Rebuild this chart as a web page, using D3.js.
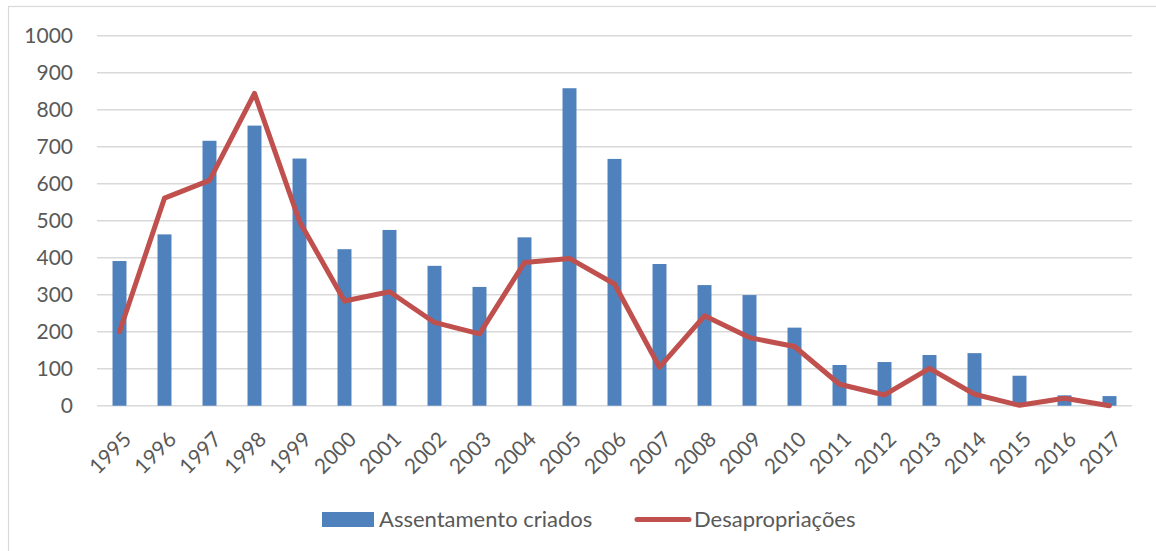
<!DOCTYPE html>
<html>
<head>
<meta charset="utf-8">
<script src="https://cdnjs.cloudflare.com/ajax/libs/d3/7.8.5/d3.min.js"></script>
<style>
  body { margin: 0; background: #fff; }
  text { font-family: Lato, "Open Sans", sans-serif; fill: #595959; }
</style>
</head>
<body>
<div id="chart"></div>
<script>
var years = ["1995","1996","1997","1998","1999","2000","2001","2002","2003","2004","2005","2006",
             "2007","2008","2009","2010","2011","2012","2013","2014","2015","2016","2017"];
var assentamentos = [391, 463, 716, 757, 668, 423, 475, 378, 321, 455, 858, 667,
                     383, 326, 299, 211, 110, 118, 137, 142, 81, 28, 26];
var desapropriacoes = [200, 561, 609, 844, 498, 283, 308, 225, 194, 387, 398, 329,
                       104, 243, 184, 160, 58, 29, 101, 31, 1, 20, 0];
var yTicks = [0, 100, 200, 300, 400, 500, 600, 700, 800, 900, 1000];

var W = 1156, H = 551;
var margin = {top: 35.7, left: 97, right: 24, bottom: 145.3};
var width = W - margin.left - margin.right;
var height = H - margin.top - margin.bottom;

var svg = d3.select("#chart").append("svg")
    .attr("width", W).attr("height", H);

// outer border (runs off the right and bottom edges)
svg.append("rect")
    .attr("x", 8.5).attr("y", 6.5)
    .attr("width", 1160).attr("height", 560)
    .attr("fill", "none").attr("stroke", "#d9d9d9").attr("stroke-width", 1.2);

var g = svg.append("g").attr("transform", "translate(" + margin.left + "," + margin.top + ")");

var x = d3.scaleBand().domain(years).range([0, width]);
var y = d3.scaleLinear().domain([0, 1000]).range([height, 0]);

// gridlines
g.selectAll(".grid")
    .data(yTicks)
    .enter().append("line")
    .attr("x1", 0).attr("x2", width)
    .attr("y1", function(d) { return y(d); })
    .attr("y2", function(d) { return y(d); })
    .attr("stroke", "#d9d9d9").attr("stroke-width", 1.5);

// y labels
var yAxis = d3.axisLeft(y).tickValues(yTicks).tickFormat(d3.format("d")).tickSize(0).tickPadding(24);
g.append("g").call(yAxis)
  .call(function(s) { s.select(".domain").remove(); })
  .selectAll("text")
    .style("font-size", "21px").attr("fill", "#595959");

// bars
var bw = x.bandwidth() * 0.31;
g.selectAll(".bar")
    .data(assentamentos)
    .enter().append("rect")
    .attr("x", function(d, i) { return x(years[i]) + x.bandwidth() / 2 - bw / 2; })
    .attr("y", function(d) { return y(d); })
    .attr("width", bw)
    .attr("height", function(d) { return y(0) - y(d); })
    .attr("fill", "#4f81bd");

// line
var line = d3.line()
    .x(function(d, i) { return x(years[i]) + x.bandwidth() / 2; })
    .y(function(d) { return y(d); });

g.append("path")
    .datum(desapropriacoes)
    .attr("d", line)
    .attr("fill", "none")
    .attr("stroke", "#c0504d")
    .attr("stroke-width", 5)
    .attr("stroke-linejoin", "round")
    .attr("stroke-linecap", "round");

// x labels
var xAxis = d3.axisBottom(x).tickSize(0).tickPadding(0);
g.append("g").attr("transform", "translate(0," + height + ")")
  .call(xAxis)
  .call(function(s) { s.select(".domain").remove(); })
  .selectAll("text")
    .style("font-size", "21px")
    .attr("fill", "#595959")
    .attr("text-anchor", "end")
    .attr("dy", 0)
    .attr("transform", "translate(13,35) rotate(-45)");

// legend
svg.append("rect")
    .attr("x", 322).attr("y", 512)
    .attr("width", 52).attr("height", 15)
    .attr("fill", "#4f81bd");
svg.append("text")
    .attr("x", 379).attr("y", 527)
    .style("font-size", "22px")
    .text("Assentamento criados");
svg.append("line")
    .attr("x1", 637).attr("x2", 689)
    .attr("y1", 519.5).attr("y2", 519.5)
    .attr("stroke", "#c0504d").attr("stroke-width", 5)
    .attr("stroke-linecap", "round");
svg.append("text")
    .attr("x", 694).attr("y", 527)
    .style("font-size", "22px")
    .text("Desapropriações");
</script>
</body>
</html>
